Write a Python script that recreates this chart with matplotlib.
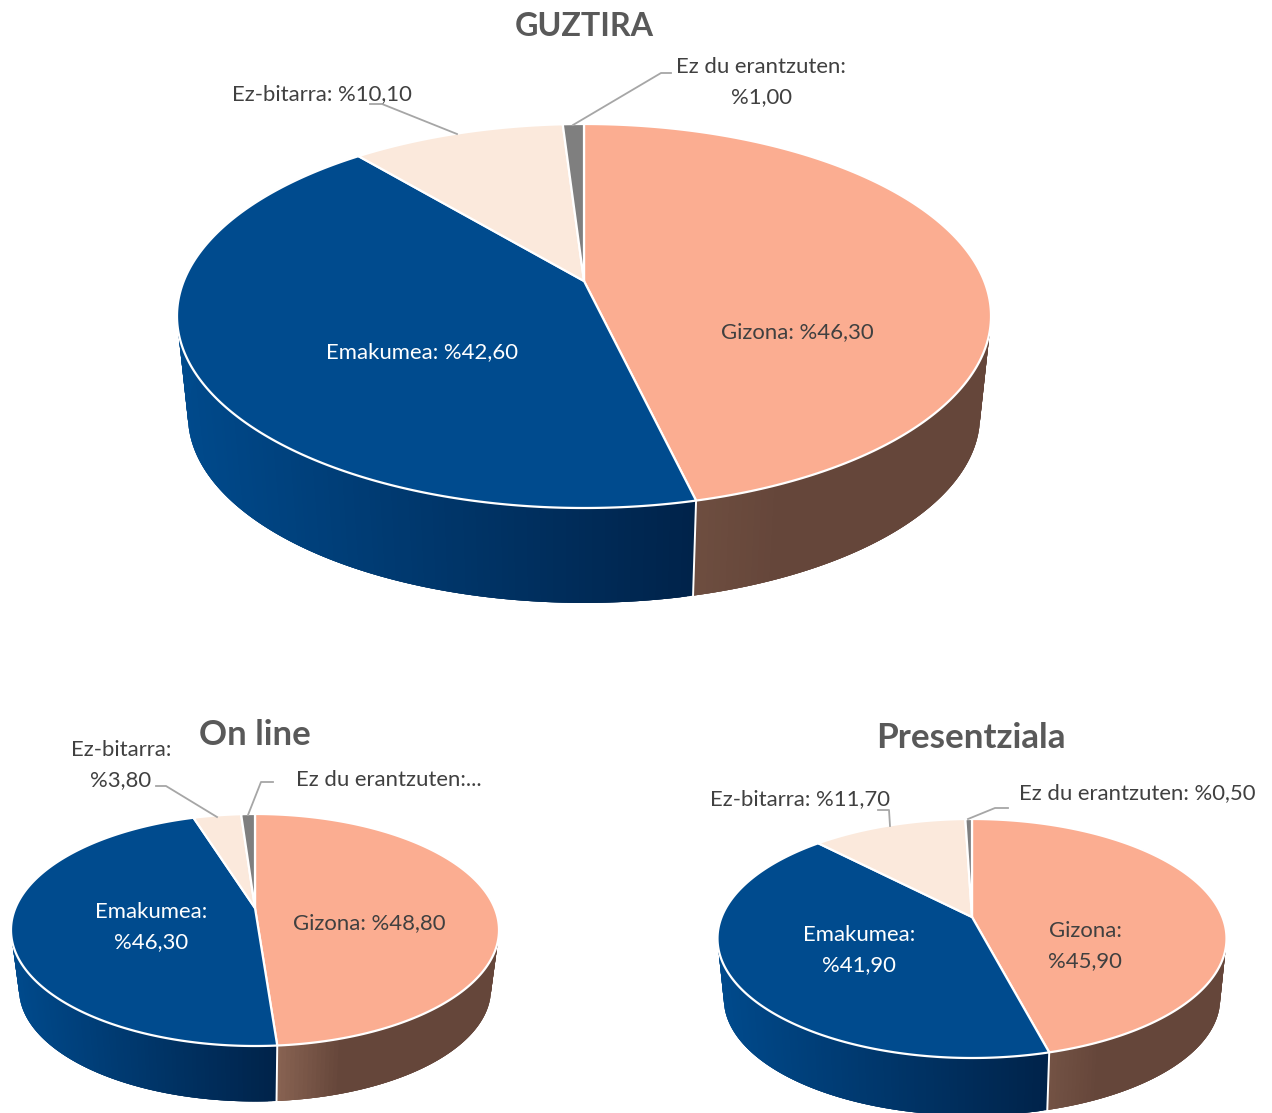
import numpy as np
import matplotlib
matplotlib.use('Agg')
import matplotlib.pyplot as plt
from matplotlib.collections import PolyCollection
from matplotlib.colors import to_rgb

plt.rcParams['font.family'] = ['Lato', 'DejaVu Sans']

categories = ['Gizona', 'Emakumea', 'Ez-bitarra', 'Ez du erantzuten']
guztira = [46.30, 42.60, 10.10, 1.00]
online = [48.80, 46.30, 3.80, 1.10]  # last label is cut off in the chart, value read from slice
presentziala = [45.90, 41.90, 11.70, 0.50]

top_colors = ['#fbad91', '#004b8e', '#fbe9dc', '#7f7f7f']
TXT = '#404040'
TITLE = '#595959'
LEADER = '#a6a6a6'
BROWN = '#65463a'


def fmt(i, values, sep=': '):
    return categories[i] + sep + '%' + f'{values[i]:.2f}'.replace('.', ',')


def project(theta, cx, apex_y, back, front, half_w, scale=1.0, dy=0.0):
    # circle seen in perspective, the centre is not the middle of the ellipse
    k = (front - back) / (front + back)
    b = back * (1 + k)
    a = half_w * np.sqrt(1 - k**2)
    u, v = np.sin(theta), np.cos(theta)
    x = cx + scale * a * u / (1 + k * v)
    y = apex_y + dy - scale * b * v / (1 + k * v)
    return x, y


def draw_pie(ax, values, geo, brown_start):
    edges = np.cumsum([0] + list(values)) / sum(values) * 2 * np.pi
    front_theta = edges[1]

    # side walls, only the two big slices ever show
    for i, cols in [(0, (brown_start, BROWN, 0.3)), (1, ('#004a8c', '#00234a', 1.0))]:
        th = np.linspace(edges[i], edges[i + 1], 200)
        xt, yt = project(th, *geo['top'])
        xb, yb = project(th, *geo['top'], geo['scale'], geo['dy'])
        x_front = project(front_theta, *geo['top'])[0]
        if i == 0:
            t = (xt - x_front) / (xt.max() - x_front)
        else:
            t = (xt - xt.min()) / (x_front - xt.min())
        t = np.clip(t / cols[2], 0, 1)
        c0, c1 = np.array(to_rgb(cols[0])), np.array(to_rgb(cols[1]))
        polys, fc = [], []
        for j in range(len(th) - 1):
            # strips overlap the next ones so no seams show
            e = min(j + 3, len(th) - 1)
            polys.append(list(zip(np.r_[xt[j:e + 1], xb[j:e + 1][::-1]],
                                  np.r_[yt[j:e + 1], yb[j:e + 1][::-1]])))
            fc.append(c0 + (c1 - c0) * t[j])
        ax.add_collection(PolyCollection(polys, facecolors=fc, edgecolors='none',
                                         linewidths=0, zorder=1))

    # white line between the two walls
    xa, ya = project(front_theta, *geo['top'])
    xb, yb = project(front_theta, *geo['top'], geo['scale'], geo['dy'])
    ax.plot([xa, xb], [ya, yb], c='white', lw=1.4, zorder=2)

    # top face
    cx, apex_y = geo['top'][0], geo['top'][1]
    for i in range(len(values)):
        th = np.linspace(edges[i], edges[i + 1], 240)
        x, y = project(th, *geo['top'])
        ax.fill(np.r_[cx, x], np.r_[apex_y, y], fc=top_colors[i], ec='white',
                lw=1.6, joinstyle='round', zorder=3)


fig = plt.figure(figsize=(12.72, 11.13), dpi=100)
ax = fig.add_axes([0, 0, 1, 1])
ax.set_xlim(0, 1272)
ax.set_ylim(1113, 0)
ax.axis('off')

geo_big = {'top': (584, 281, 157, 227, 407), 'scale': 0.973, 'dy': 101}
geo_on = {'top': (255, 908, 94, 138, 244), 'scale': 0.967, 'dy': 60}
geo_pre = {'top': (972, 917, 98, 141, 254.5), 'scale': 0.975, 'dy': 61}

draw_pie(ax, guztira, geo_big, '#6e4e40')
draw_pie(ax, online, geo_on, '#8a6453')
draw_pie(ax, presentziala, geo_pre, '#745345')

# leader lines
leaders = [
    [(370, 104), (382, 104), (457, 134)],
    [(573, 125), (661, 73), (671, 73)],
    [(156, 786), (166, 786), (217, 817)],
    [(248, 815), (261, 782), (273, 782)],
    [(878, 810), (889, 810), (890, 826)],
    [(968, 819), (995, 808), (1008, 808)],
]
for pts in leaders:
    xs, ys = zip(*pts)
    ax.plot(xs, ys, c=LEADER, lw=1.3, zorder=4)

LABEL_SIZE = 15.9
LINE = 1.62


def label(x, y, s, c=TXT):
    ax.text(x, y, s, color=c, fontsize=LABEL_SIZE, ha='center', va='center',
            linespacing=LINE, zorder=5)


ax.text(584, 27, 'GUZTIRA', color=TITLE, fontsize=23.2, fontweight='bold',
        ha='center', va='center')
ax.text(255, 735, 'On line', color=TITLE, fontsize=25, fontweight='bold',
        ha='center', va='center')
ax.text(971, 738, 'Presentziala', color=TITLE, fontsize=25.2, fontweight='bold',
        ha='center', va='center')

label(797, 332, fmt(0, guztira))
label(422, 352, fmt(1, guztira), 'white')
label(322, 94, fmt(2, guztira))
label(761, 82, fmt(3, guztira, ':\n'))

label(369, 923, fmt(0, online))
label(151, 927, fmt(1, online, ':\n'), 'white')
label(121, 765, fmt(2, online, ':\n'))
label(389, 780, categories[3] + ':...')

label(1085, 946, fmt(0, presentziala, ':\n'))
label(859, 950, fmt(1, presentziala, ':\n'), 'white')
label(800, 799, fmt(2, presentziala))
label(1137, 793, fmt(3, presentziala))

fig.savefig('out.png', dpi=100)
